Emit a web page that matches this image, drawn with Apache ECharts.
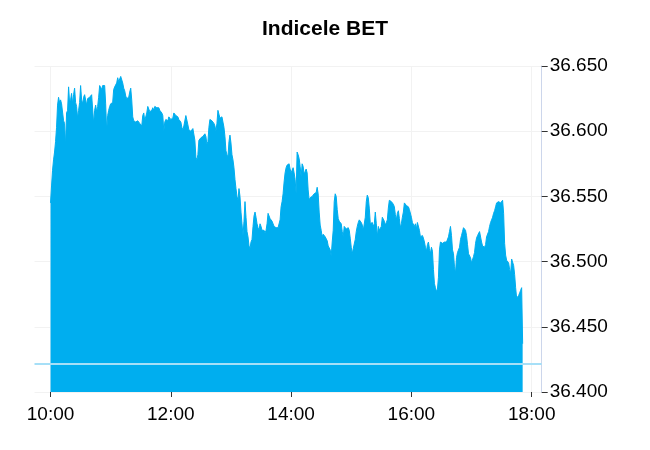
<!DOCTYPE html>
<html>
<head>
<meta charset="utf-8">
<script src="https://cdn.jsdelivr.net/npm/echarts@6/dist/echarts.min.js"></script>
<style>
html,body{margin:0;padding:0;background:#fff;}
#chart{width:650px;height:450px;}
</style>
</head>
<body>
<div id="chart"></div>
<script>
// Indicele BET – intraday values, one per minute from 10:00
var title = 'Indicele BET';
var startTime = '10:00';
var values = [
36545,36558,36570,36578,36584,36592,36603,36620,36626,36622,
36624,36621,36622,36608,36606,36589,36614,36616,36634,36622,
36624,36629,36621,36628,36633,36622,36619,36610,36616,36622,
36635,36624,36621,36626,36628,36627,36620,36625,36626,36626,
36627,36628,36629,36606,36616,36620,36615,36619,36626,36635,
36635,36632,36635,36635,36635,36621,36600,36612,36616,36619,
36621,36622,36622,36632,36634,36634,36637,36641,36638,36640,
36642,36642,36637,36633,36631,36627,36625,36624,36626,36630,
36633,36624,36611,36608,36607,36607,36607,36608,36607,36606,
36605,36604,36612,36614,36608,36609,36614,36619,36618,36615,
36616,36616,36618,36616,36619,36618,36618,36618,36618,36616,
36617,36614,36612,36600,36607,36609,36610,36608,36611,36612,
36609,36610,36610,36614,36614,36612,36612,36611,36609,36608,
36607,36603,36601,36604,36603,36612,36611,36605,36601,36601,
36600,36601,36602,36601,36593,36580,36578,36582,36593,36593,
36595,36596,36596,36597,36598,36596,36590,36592,36603,36609,
36609,36608,36607,36606,36604,36600,36606,36616,36615,36610,
36610,36611,36607,36603,36596,36585,36582,36580,36592,36597,
36591,36582,36578,36572,36563,36556,36550,36547,36556,36550,
36538,36529,36520,36531,36546,36534,36523,36519,36512,36510,
36515,36517,36527,36535,36538,36534,36529,36526,36524,36529,
36527,36524,36525,36524,36522,36524,36529,36537,36535,36533,
36532,36531,36532,36527,36526,36526,36526,36526,36525,36532,
36542,36546,36552,36561,36568,36572,36574,36574,36575,36571,
36568,36569,36572,36568,36563,36552,36584,36582,36579,36573,
36565,36575,36573,36567,36566,36571,36568,36555,36547,36549,
36549,36550,36551,36552,36552,36553,36557,36552,36538,36528,
36524,36519,36521,36521,36519,36519,36516,36512,36512,36509,
36504,36515,36524,36546,36552,36550,36540,36533,36531,36530,
36529,36523,36519,36527,36526,36525,36525,36526,36524,36518,
36511,36506,36510,36511,36517,36523,36527,36530,36532,36532,
36530,36528,36524,36523,36534,36546,36551,36549,36541,36529,
36529,36530,36527,36529,36538,36529,36519,36527,36524,36523,
36527,36534,36534,36531,36528,36530,36532,36541,36547,36547,
36546,36545,36544,36542,36536,36532,36537,36539,36533,36526,
36529,36534,36538,36545,36545,36543,36543,36542,36540,36539,
36534,36530,36529,36527,36529,36525,36530,36529,36524,36519,
36518,36520,36518,36515,36511,36508,36513,36515,36510,36506,
36511,36508,36494,36483,36480,36477,36479,36488,36509,36515,
36515,36514,36514,36515,36515,36515,36516,36519,36523,36527,
36520,36509,36506,36496,36491,36503,36507,36508,36511,36517,
36520,36523,36526,36525,36524,36520,36513,36506,36505,36503,
36499,36500,36504,36507,36514,36518,36520,36521,36523,36522,
36515,36512,36512,36511,36513,36519,36520,36523,36527,36530,
36532,36534,36537,36539,36542,36545,36546,36546,36546,36545,
36545,36547,36537,36514,36505,36501,36501,36499,36494,36491,
36502,36502,36497,36490,36480,36472,36471,36474,36476,36478,
36480,36437
];
var prevClose = 36421.5;
var timeTicks = ['10:00', '12:00', '14:00', '16:00', '18:00'];
var yTicks = [36400, 36450, 36500, 36550, 36600, 36650];

function toMin(s) { var p = s.split(':'); return (+p[0]) * 60 + (+p[1]); }
var startMin = toMin(startTime);
function fmtTime(v) {
  var t = Math.round(startMin + v);
  var h = Math.floor(t / 60), m = t % 60;
  return (h < 10 ? '0' : '') + h + ':' + (m < 10 ? '0' : '') + m;
}
function fmtNum(v) { return String(v).replace(/\B(?=(\d{3})+(?!\d))/g, '.'); }

var seriesData = values.map(function (v, i) { return [i, v]; });
var tickVals = timeTicks.map(function (s) { return toMin(s) - startMin; });

var font = '"Liberation Sans", Arial, sans-serif';
var chart = echarts.init(document.getElementById('chart'));
chart.setOption({
  animation: false,
  backgroundColor: '#fff',
  title: {
    text: title, left: 'center', top: 14,
    textStyle: { fontFamily: font, fontSize: 21, fontWeight: 'bold', color: '#000' }
  },
  grid: { left: 34.5, right: 108.3, top: 66, bottom: 58 },
  xAxis: {
    type: 'value', min: -16, max: 490,
    axisLine: { show: false, onZero: false },
    axisTick: { show: true, length: 5, customValues: tickVals, lineStyle: { color: '#333' } },
    splitLine: { show: true, lineStyle: { color: '#f2f2f2', width: 1 } },
    axisLabel: {
      customValues: tickVals, formatter: fmtTime, margin: 13,
      fontFamily: font, fontSize: 19, color: '#000'
    }
  },
  yAxis: {
    type: 'value', position: 'right',
    min: yTicks[0], max: yTicks[yTicks.length - 1], interval: 50,
    axisLine: { show: true, onZero: false, lineStyle: { color: '#ccd6eb', width: 1 } },
    axisTick: { show: true, length: 6, lineStyle: { color: '#333' } },
    splitLine: { show: true, lineStyle: { color: '#f2f2f2', width: 1 } },
    axisLabel: { formatter: fmtNum, margin: 8, fontFamily: font, fontSize: 19, color: '#000' }
  },
  series: [{
    type: 'line',
    data: seriesData,
    showSymbol: false,
    symbol: 'none',
    lineStyle: { color: '#00aeef', width: 1 },
    areaStyle: { color: '#00aeef', opacity: 1, origin: 'start' },
    markLine: {
      silent: true,
      symbol: ['none', 'none'],
      label: { show: false },
      lineStyle: { color: '#a6dff7', width: 2, type: 'solid' },
      data: [{ yAxis: prevClose }]
    }
  }]
});
</script>
</body>
</html>
